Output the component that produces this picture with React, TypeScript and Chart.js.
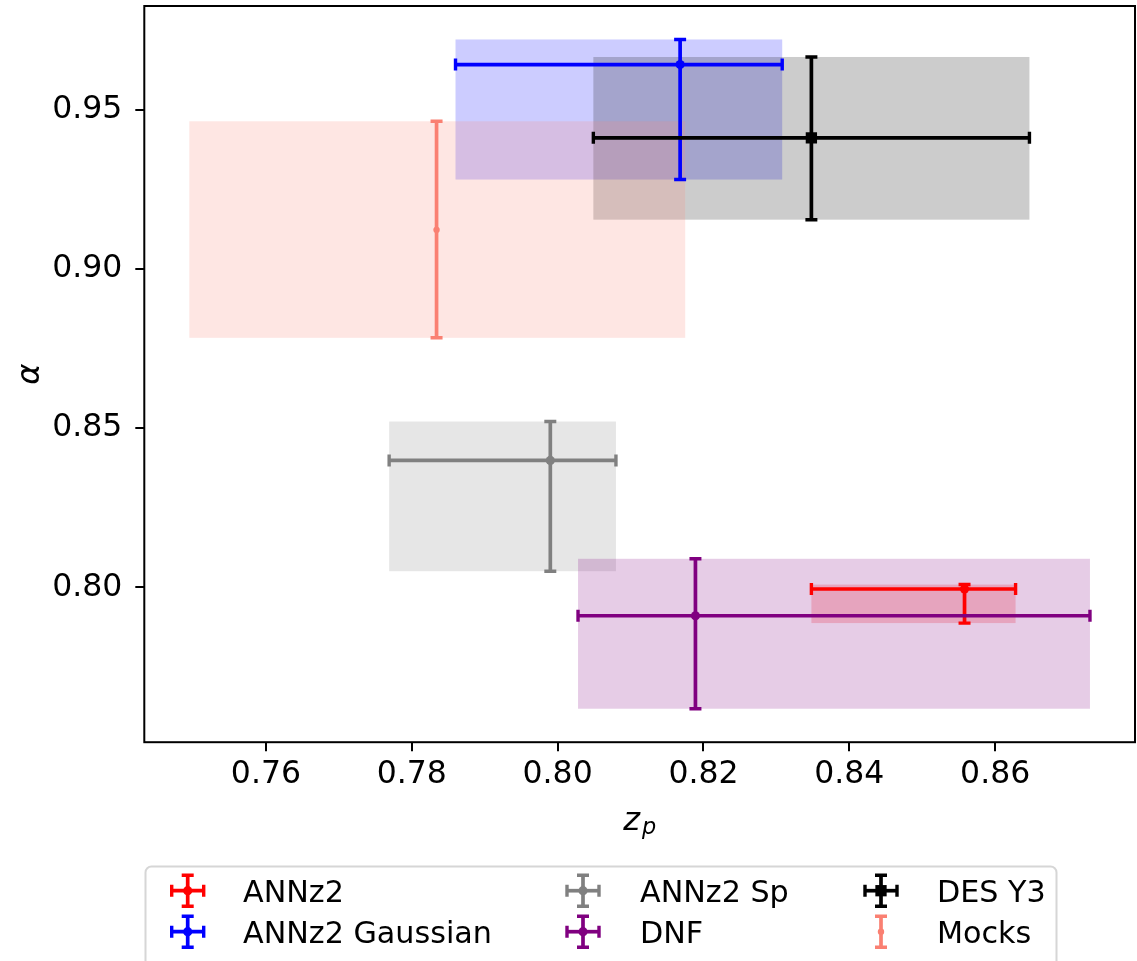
import React, { useEffect, useRef } from "react";
import { Chart, registerables } from "chart.js";

Chart.register(...registerables);

// ---- data ----
const seriesNames = ["ANNz2", "ANNz2 Gaussian", "ANNz2 Sp", "DNF", "DES Y3", "Mocks"];
const seriesColors = ["#ff0000", "#0000ff", "#808080", "#800080", "#000000", "#fa8072"];
const zpValues = [0.8558, 0.8168, 0.799, 0.8189, 0.8348, 0.7834];
const zpLow = [0.8348, 0.786, 0.7769, 0.8028, 0.8049, 0.7495];
const zpHigh = [0.8628, 0.8308, 0.808, 0.873, 0.8647, 0.8175];
const alphaValues = [0.7995, 0.9642, 0.8399, 0.7911, 0.9412, 0.9123];
const alphaLow = [0.7888, 0.9281, 0.8051, 0.7619, 0.9155, 0.8784];
const alphaHigh = [0.8009, 0.9721, 0.8521, 0.809, 0.9666, 0.9464];
const showXErr = [true, true, true, true, true, false];
const markerStyles = ["circle", "circle", "circle", "circle", "rect", "circle"];
const markerRadius = [4.6, 4.6, 4.6, 4.6, 8, 3.2];
const xTicks = [0.76, 0.78, 0.8, 0.82, 0.84, 0.86];
const yTicks = [0.8, 0.85, 0.9, 0.95];
const xTitle = "z";
const xTitleSub = "p";
const yTitle = "α";
// legend: column-wise order as in matplotlib (ncol = 3)
const legendOrder = [0, 1, 2, 3, 4, 5];

const FONT = '"DejaVu Sans", "Liberation Sans", sans-serif';
const FS = 30.2;
const TICK_FS = 31.5;
const TITLE_FS = 32;

function rgba(hex: string, a: number) {
  const r = parseInt(hex.slice(1, 3), 16);
  const g = parseInt(hex.slice(3, 5), 16);
  const b = parseInt(hex.slice(5, 7), 16);
  return `rgba(${r},${g},${b},${a})`;
}

const BAR_LW = 3.7;
const CAP_HALF = 6;
const CAP_LW = 3.4;

function drawErrorSymbol(
  ctx: CanvasRenderingContext2D,
  color: string,
  x: number,
  y: number,
  xl: number | null,
  xr: number | null,
  yt: number,
  yb: number
) {
  ctx.strokeStyle = color;
  ctx.lineCap = "butt";
  if (xl !== null && xr !== null) {
    ctx.lineWidth = BAR_LW;
    ctx.beginPath();
    ctx.moveTo(xl, y);
    ctx.lineTo(xr, y);
    ctx.stroke();
    ctx.lineWidth = CAP_LW;
    ctx.beginPath();
    ctx.moveTo(xl, y - CAP_HALF);
    ctx.lineTo(xl, y + CAP_HALF);
    ctx.moveTo(xr, y - CAP_HALF);
    ctx.lineTo(xr, y + CAP_HALF);
    ctx.stroke();
  }
  ctx.lineWidth = BAR_LW;
  ctx.beginPath();
  ctx.moveTo(x, yt);
  ctx.lineTo(x, yb);
  ctx.stroke();
  ctx.lineWidth = CAP_LW;
  ctx.beginPath();
  ctx.moveTo(x - CAP_HALF, yt);
  ctx.lineTo(x + CAP_HALF, yt);
  ctx.moveTo(x - CAP_HALF, yb);
  ctx.lineTo(x + CAP_HALF, yb);
  ctx.stroke();
}

function drawMarker(ctx: CanvasRenderingContext2D, style: string, color: string, r: number, x: number, y: number) {
  ctx.fillStyle = color;
  ctx.beginPath();
  if (style === "rect") {
    const s = r * Math.SQRT1_2;
    ctx.rect(x - s, y - s, 2 * s, 2 * s);
  } else {
    ctx.arc(x, y, r, 0, Math.PI * 2);
  }
  ctx.fill();
}

const errorPlugin = {
  id: "errorBoxes",
  beforeDatasetsDraw(chart: any) {
    const { ctx, chartArea, scales } = chart;
    const xs = scales.x;
    const ys = scales.y;
    ctx.save();
    ctx.beginPath();
    ctx.rect(chartArea.left, chartArea.top, chartArea.right - chartArea.left, chartArea.bottom - chartArea.top);
    ctx.clip();
    // shaded boxes
    for (let i = 0; i < seriesNames.length; i++) {
      const x0 = xs.getPixelForValue(zpLow[i]);
      const x1 = xs.getPixelForValue(zpHigh[i]);
      const y0 = ys.getPixelForValue(alphaHigh[i]);
      const y1 = ys.getPixelForValue(alphaLow[i]);
      ctx.fillStyle = rgba(seriesColors[i], 0.2);
      ctx.fillRect(x0, y0, x1 - x0, y1 - y0);
    }
    // error bars
    for (let i = 0; i < seriesNames.length; i++) {
      const cx = xs.getPixelForValue(zpValues[i]);
      const cy = ys.getPixelForValue(alphaValues[i]);
      const xl = showXErr[i] ? xs.getPixelForValue(zpLow[i]) : null;
      const xr = showXErr[i] ? xs.getPixelForValue(zpHigh[i]) : null;
      drawErrorSymbol(ctx, seriesColors[i], cx, cy, xl, xr, ys.getPixelForValue(alphaHigh[i]), ys.getPixelForValue(alphaLow[i]));
    }
    ctx.restore();
  },
  afterDraw(chart: any) {
    const { ctx, chartArea } = chart;
    ctx.save();
    // frame
    ctx.strokeStyle = "#000";
    ctx.lineWidth = 2;
    ctx.strokeRect(chartArea.left, chartArea.top, chartArea.right - chartArea.left, chartArea.bottom - chartArea.top);

    // y title
    ctx.fillStyle = "#000";
    ctx.font = `italic ${TITLE_FS}px ${FONT}`;
    ctx.textAlign = "center";
    ctx.textBaseline = "middle";
    ctx.save();
    ctx.translate(31, (chartArea.top + chartArea.bottom) / 2);
    ctx.rotate(-Math.PI / 2);
    ctx.fillText(yTitle, 0, 0);
    ctx.restore();

    // x title with subscript
    const cxm = (chartArea.left + chartArea.right) / 2;
    ctx.textBaseline = "alphabetic";
    ctx.textAlign = "left";
    ctx.font = `italic ${TITLE_FS}px ${FONT}`;
    const zw = ctx.measureText(xTitle).width;
    ctx.font = `italic ${TITLE_FS * 0.7}px ${FONT}`;
    const pw = ctx.measureText(xTitleSub).width;
    const startX = cxm - (zw + pw + 2) / 2;
    ctx.font = `italic ${TITLE_FS}px ${FONT}`;
    ctx.fillText(xTitle, startX, 830);
    ctx.font = `italic ${TITLE_FS * 0.7}px ${FONT}`;
    ctx.fillText(xTitleSub, startX + zw + 2, 834);

    // legend
    const lx = 145.5;
    const ly = 866.5;
    const lwid = 911;
    const lh = 130;
    const rad = 6;
    ctx.beginPath();
    ctx.moveTo(lx + rad, ly);
    ctx.lineTo(lx + lwid - rad, ly);
    ctx.arcTo(lx + lwid, ly, lx + lwid, ly + rad, rad);
    ctx.lineTo(lx + lwid, ly + lh);
    ctx.lineTo(lx, ly + lh);
    ctx.lineTo(lx, ly + rad);
    ctx.arcTo(lx, ly, lx + rad, ly, rad);
    ctx.closePath();
    ctx.fillStyle = "rgba(255,255,255,0.8)";
    ctx.fill();
    ctx.strokeStyle = "#d6d6d6";
    ctx.lineWidth = 2;
    ctx.stroke();

    const colMarkerX = [187.7, 583, 881];
    const colTextX = [243, 640, 937];
    const rowY = [890.7, 931.7];
    ctx.font = `${FS}px ${FONT}`;
    ctx.textAlign = "left";
    ctx.textBaseline = "alphabetic";
    legendOrder.forEach((si, k) => {
      const col = Math.floor(k / 2);
      const row = k % 2;
      const mx = colMarkerX[col];
      const my = rowY[row];
      const c = seriesColors[si];
      drawErrorSymbol(
        ctx,
        c,
        mx,
        my,
        showXErr[si] ? mx - 16 : null,
        showXErr[si] ? mx + 16 : null,
        my - 15.5,
        my + 15.5
      );
      drawMarker(ctx, markerStyles[si], c, markerRadius[si], mx, my);
      ctx.fillStyle = "#000";
      ctx.fillText(seriesNames[si], colTextX[col], my + (FS * 0.729) / 2);
    });
    ctx.restore();
  },
};

function margins(lo: number[], hi: number[]) {
  const mn = Math.min(...lo);
  const mx = Math.max(...hi);
  const pad = (mx - mn) * 0.05;
  return [mn - pad, mx + pad];
}

export default function App() {
  const ref = useRef<HTMLCanvasElement>(null);
  useEffect(() => {
    const canvas = ref.current;
    if (!canvas) return;
    const [xMin, xMax] = margins(zpLow, zpHigh);
    const [yMin, yMax] = margins(alphaLow, alphaHigh);
    const chart = new Chart(canvas, {
      type: "scatter",
      data: {
        datasets: seriesNames.map((name, i) => ({
          label: name,
          data: [{ x: zpValues[i], y: alphaValues[i] }],
          backgroundColor: seriesColors[i],
          borderColor: seriesColors[i],
          borderWidth: 0,
          pointStyle: markerStyles[i] as any,
          pointRadius: markerRadius[i],
        })),
      },
      options: {
        responsive: false,
        animation: false,
        devicePixelRatio: 1,
        layout: { autoPadding: false, padding: { left: 0, top: 6, right: 2, bottom: 108.8 } },
        plugins: { legend: { display: false }, tooltip: { enabled: false } },
        scales: {
          x: {
            type: "linear",
            min: xMin,
            max: xMax,
            afterBuildTicks: (s: any) => {
              s.ticks = xTicks.map((v) => ({ value: v }));
            },
            afterFit: (s: any) => {
              s.height = 110;
              s.paddingLeft = 0;
              s.paddingRight = 0;
            },
            ticks: {
              callback: (v: any) => Number(v).toFixed(2),
              font: { family: FONT, size: TICK_FS },
              color: "#000",
              padding: 5,
              maxRotation: 0,
              autoSkip: false,
            },
            grid: { drawOnChartArea: false, drawTicks: true, tickLength: 9, color: "#000", lineWidth: 2 },
            border: { display: false },
          },
          y: {
            type: "linear",
            min: yMin,
            max: yMax,
            afterBuildTicks: (s: any) => {
              s.ticks = yTicks.map((v) => ({ value: v }));
            },
            afterFit: (s: any) => {
              s.width = 144.3;
              s.paddingTop = 0;
              s.paddingBottom = 0;
            },
            ticks: {
              callback: (v: any) => Number(v).toFixed(2),
              font: { family: FONT, size: TICK_FS },
              color: "#000",
              padding: 13,
              autoSkip: false,
            },
            grid: { drawOnChartArea: false, drawTicks: true, tickLength: 9, color: "#000", lineWidth: 2 },
            border: { display: false },
          },
        },
      },
      plugins: [errorPlugin],
    });
    return () => chart.destroy();
  }, []);
  return (
    <div style={{ position: "absolute", left: 0, top: 0, width: 1137, height: 961, background: "#fff" }}>
      <canvas ref={ref} width={1137} height={961} style={{ display: "block" }} />
    </div>
  );
}
